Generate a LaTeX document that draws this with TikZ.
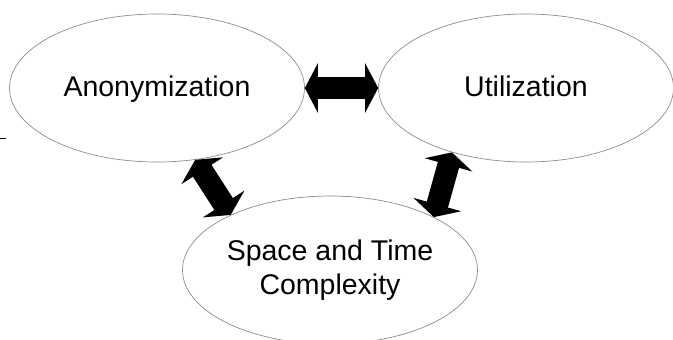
\documentclass[tikz,border=0pt]{standalone}
\usepackage{fontspec}
\setmainfont{Liberation Sans}
\usetikzlibrary{shapes.geometric,arrows.meta}

\tikzset{
  topic/.style={ellipse, draw=black!45, line width=0.7pt, fill=white,
    minimum width=295pt, minimum height=148pt, inner sep=0pt,
    align=center, font=\fontsize{28.5}{33.6}\selectfont},
  % single-line labels share one baseline
  oneline/.style={text height=24pt, text depth=6.6pt},
  bigarrow/.style={line width=22pt,
    {Triangle[width=49pt,length=13pt]}-{Triangle[width=49pt,length=13pt]}},
}

\begin{document}
\begin{tikzpicture}[x=1pt,y=-1pt]
  \useasboundingbox (0,0) rectangle (673,340);

  % the three topics
  \node[topic,oneline] (anon) at (157,88) {Anonymization};
  \node[topic,oneline] (util) at (526,88) {Utilization};
  \node[topic] (cost) at (330,270) {Space and Time\\Complexity};

  % two-way trade-offs between them
  \draw[bigarrow] (anon.east) -- (util.west);
  \draw[bigarrow] (anon.-62.5) -- (cost.151.3);
  \draw[bigarrow] (util.-139.9) -- (cost.27.2);

  % short stray tick at the left margin
  \coordinate (tickA) at (0,138.5);
  \coordinate (tickB) at (6,138.5);
  \draw[line width=1.5pt] (tickA) -- (tickB);
\end{tikzpicture}
\end{document}
